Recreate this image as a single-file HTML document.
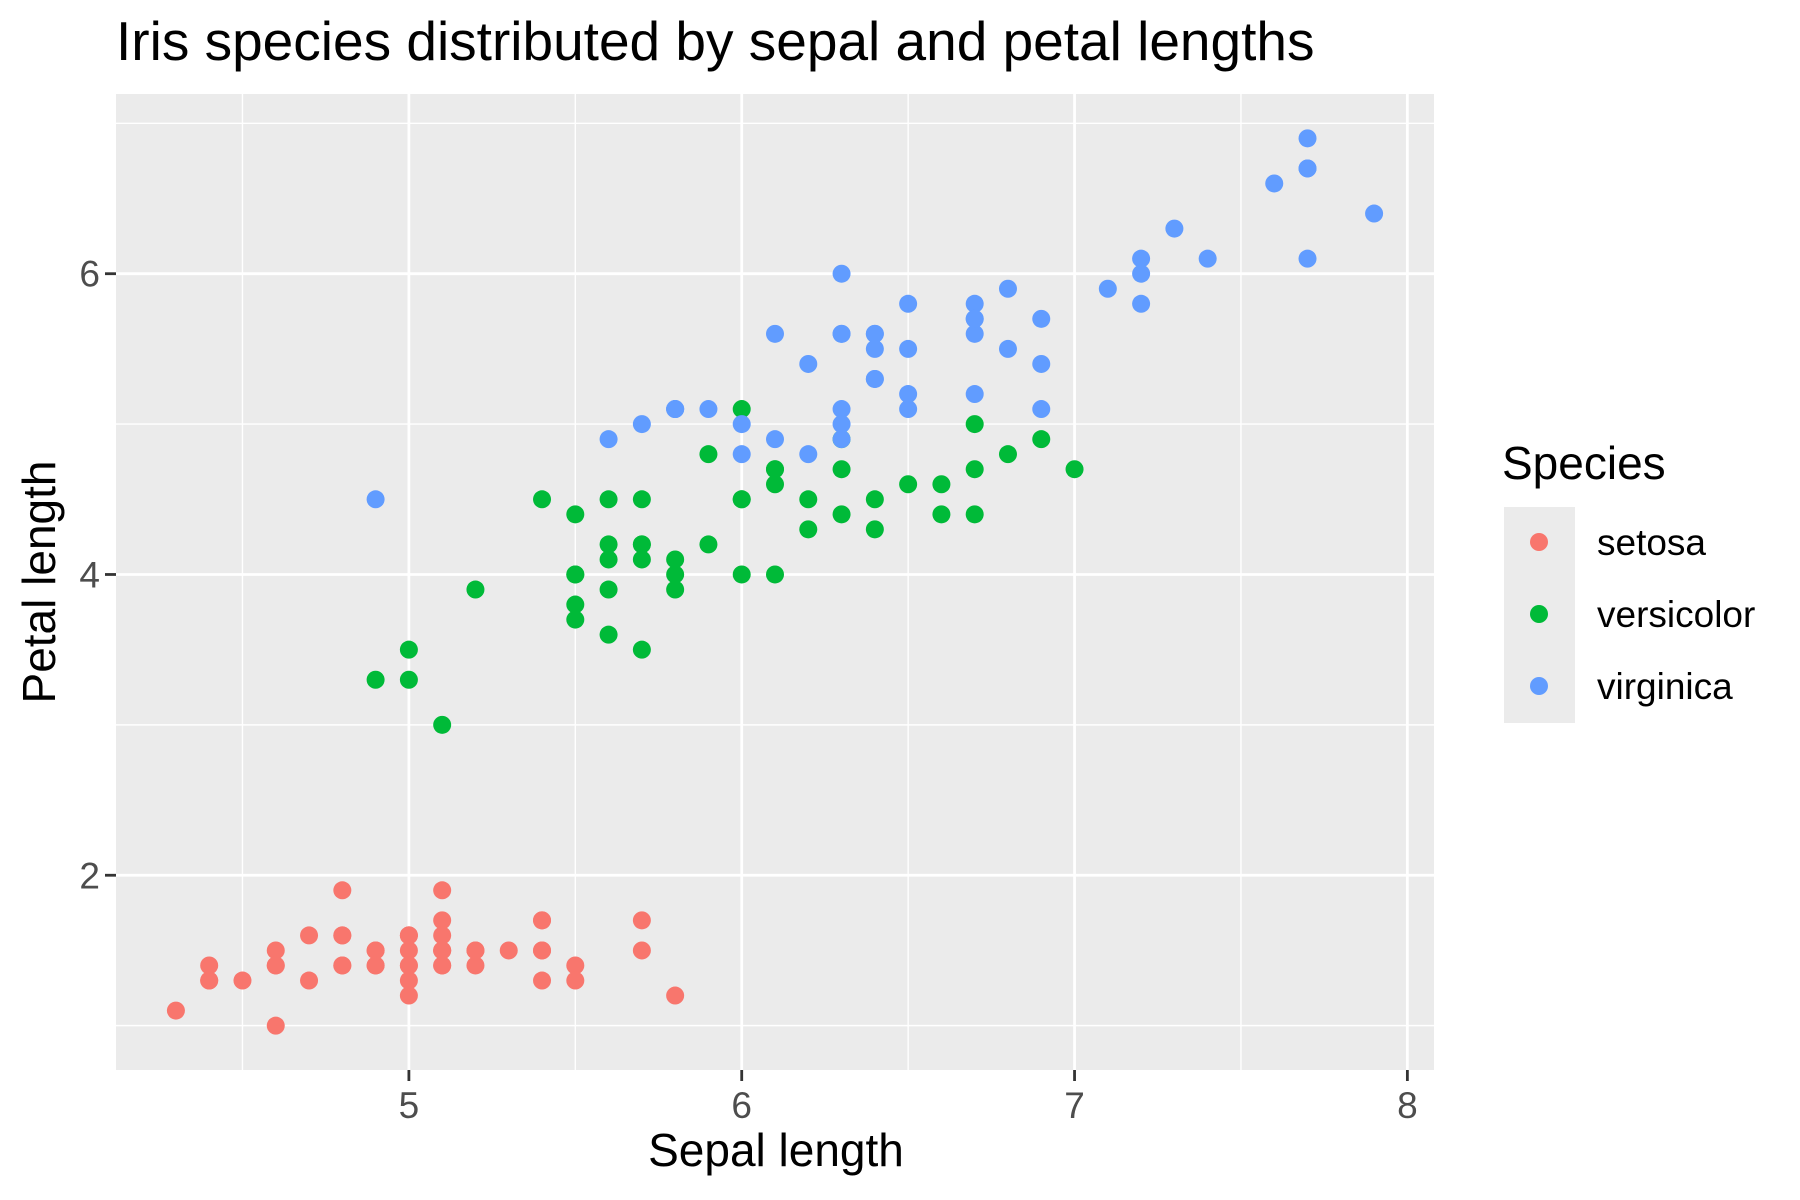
<!DOCTYPE html>
<html><head><meta charset="utf-8"><style>
html,body{margin:0;padding:0;background:#fff;}
svg{display:block;font-family:"Liberation Sans",Arial,sans-serif;}
</style></head><body>
<svg id="chart" width="1800" height="1200" viewBox="0 0 1800 1200">
<rect x="0" y="0" width="1800" height="1200" fill="#fff"/>
<text x="116" y="60" font-size="55" fill="#000">Iris species distributed by sepal and petal lengths</text>
<rect x="116" y="94" width="1318" height="976" fill="#EBEBEB"/>
<g id="grid"></g>
<g id="points"></g>
<g id="axes"></g>
<text x="776" y="1166" font-size="46" text-anchor="middle" fill="#000">Sepal length</text>
<text transform="translate(55,582) rotate(-90)" font-size="46" text-anchor="middle" fill="#000">Petal length</text>
<g>
<text x="1502" y="479" font-size="46" fill="#000">Species</text>
<rect x="1504" y="507" width="71" height="216" fill="#EBEBEB"/>
<g id="legend-entries"></g>
</g>
</svg>
<script>
const speciesNames = ["setosa","versicolor","virginica"];
const speciesColors = ["#F8766D","#00BA38","#619CFF"];
const setosaSepal = [5.1,4.9,4.7,4.6,5.0,5.4,4.6,5.0,4.4,4.9,5.4,4.8,4.8,4.3,5.8,5.7,5.4,5.1,5.7,5.1,5.4,5.1,4.6,5.1,4.8,5.0,5.0,5.2,5.2,4.7,4.8,5.4,5.2,5.5,4.9,5.0,5.5,4.9,4.4,5.1,5.0,4.5,4.4,5.0,5.1,4.8,5.1,4.6,5.3,5.0];
const setosaPetal = [1.4,1.4,1.3,1.5,1.4,1.7,1.4,1.5,1.4,1.5,1.5,1.6,1.4,1.1,1.2,1.5,1.3,1.4,1.7,1.5,1.7,1.5,1.0,1.7,1.9,1.6,1.6,1.5,1.4,1.6,1.6,1.5,1.5,1.4,1.5,1.2,1.3,1.4,1.3,1.5,1.3,1.3,1.3,1.6,1.9,1.4,1.6,1.4,1.5,1.4];
const versicolorSepal = [7.0,6.4,6.9,5.5,6.5,5.7,6.3,4.9,6.6,5.2,5.0,5.9,6.0,6.1,5.6,6.7,5.6,5.8,6.2,5.6,5.9,6.1,6.3,6.1,6.4,6.6,6.8,6.7,6.0,5.7,5.5,5.5,5.8,6.0,5.4,6.0,6.7,6.3,5.6,5.5,5.5,6.1,5.8,5.0,5.6,5.7,5.7,6.2,5.1,5.7];
const versicolorPetal = [4.7,4.5,4.9,4.0,4.6,4.5,4.7,3.3,4.6,3.9,3.5,4.2,4.0,4.7,3.6,4.4,4.5,4.1,4.5,3.9,4.8,4.0,4.9,4.7,4.3,4.4,4.8,5.0,4.5,3.5,3.8,3.7,3.9,5.1,4.5,4.5,4.7,4.4,4.1,4.0,4.4,4.6,4.0,3.3,4.2,4.2,4.2,4.3,3.0,4.1];
const virginicaSepal = [6.3,5.8,7.1,6.3,6.5,7.6,4.9,7.3,6.7,7.2,6.5,6.4,6.8,5.7,5.8,6.4,6.5,7.7,7.7,6.0,6.9,5.6,7.7,6.3,6.7,7.2,6.2,6.1,6.4,7.2,7.4,7.9,6.4,6.3,6.1,7.7,6.3,6.4,6.0,6.9,6.7,6.9,5.8,6.8,6.7,6.7,6.3,6.5,6.2,5.9];
const virginicaPetal = [6.0,5.1,5.9,5.6,5.8,6.6,4.5,6.3,5.8,6.1,5.1,5.3,5.5,5.0,5.1,5.3,5.5,6.7,6.9,5.0,5.7,4.9,6.7,4.9,5.7,6.0,4.8,4.9,5.6,5.8,6.1,6.4,5.6,5.1,5.6,6.1,5.6,5.5,4.8,5.4,5.6,5.1,5.1,5.9,5.7,5.2,5.0,5.2,5.4,5.1];
const xTicks = [5,6,7,8];
const yTicks = [2,4,6];
const xMinor = [4.5,5.5,6.5,7.5];
const yMinor = [1,3,5,7];

const NS = "http://www.w3.org/2000/svg";
const P = {l:116, r:1434, t:94, b:1070};
const allX = setosaSepal.concat(versicolorSepal, virginicaSepal);
const allY = setosaPetal.concat(versicolorPetal, virginicaPetal);
const xmin = Math.min(...allX), xmax = Math.max(...allX);
const ymin = Math.min(...allY), ymax = Math.max(...allY);
const xlo = xmin - 0.05*(xmax-xmin), xhi = xmax + 0.05*(xmax-xmin);
const ylo = ymin - 0.05*(ymax-ymin), yhi = ymax + 0.05*(ymax-ymin);
function sx(v){ return P.l + (v-xlo)/(xhi-xlo)*(P.r-P.l); }
function sy(v){ return P.b - (v-ylo)/(yhi-ylo)*(P.b-P.t); }
function mk(tag, attrs, parent){ const e=document.createElementNS(NS,tag); for(const k in attrs) e.setAttribute(k,attrs[k]); parent.appendChild(e); return e; }

const grid = document.getElementById('grid');
xMinor.forEach(v=>{ const l=mk('line',{x1:sx(v),x2:sx(v),y1:P.t,y2:P.b,stroke:'#fff','stroke-width':1.4},grid);

 });
yMinor.forEach(v=>{ if(v<ylo||v>yhi) return; const l=mk('line',{x1:P.l,x2:P.r,y1:sy(v),y2:sy(v),stroke:'#fff','stroke-width':1.4},grid);

 });
xTicks.forEach(v=>{ const l=mk('line',{x1:sx(v),x2:sx(v),y1:P.t,y2:P.b,stroke:'#fff','stroke-width':2.8},grid);

 });
yTicks.forEach(v=>{ const l=mk('line',{x1:P.l,x2:P.r,y1:sy(v),y2:sy(v),stroke:'#fff','stroke-width':2.8},grid);

 });

const axes = document.getElementById('axes');
xTicks.forEach(v=>{
  const t=mk('line',{x1:sx(v),x2:sx(v),y1:P.b,y2:P.b+11,stroke:'#333','stroke-width':2.8},axes);
  
  
  const s=mk('text',{x:sx(v),y:1118,'font-size':37,'text-anchor':'middle',fill:'#4D4D4D'},axes);
  s.textContent=v;
  
  
});
yTicks.forEach(v=>{
  const t=mk('line',{x1:P.l-11,x2:P.l,y1:sy(v),y2:sy(v),stroke:'#333','stroke-width':2.8},axes);
  
  
  const s=mk('text',{x:P.l-16,y:sy(v)+13,'font-size':37,'text-anchor':'end',fill:'#4D4D4D'},axes);
  s.textContent=v;
  
  
});

const pts = document.getElementById('points');
const series = [[setosaSepal,setosaPetal],[versicolorSepal,versicolorPetal],[virginicaSepal,virginicaPetal]];
series.forEach((s,i)=>{
  s[0].forEach((xv,j)=>{
    const c=mk('circle',{cx:sx(xv),cy:sy(s[1][j]),r:9,fill:speciesColors[i]},pts);
    
    
  });
});

const leg = document.getElementById('legend-entries');
speciesNames.forEach((n,i)=>{
  const y = 542 + i*72;
  const c=mk('circle',{cx:1539,cy:y,r:9,fill:speciesColors[i]},leg);
  
  
  const t=mk('text',{x:1597,y:y+13,'font-size':37,fill:'#000'},leg);
  t.textContent=n;
  
  
});
</script>
</body></html>
